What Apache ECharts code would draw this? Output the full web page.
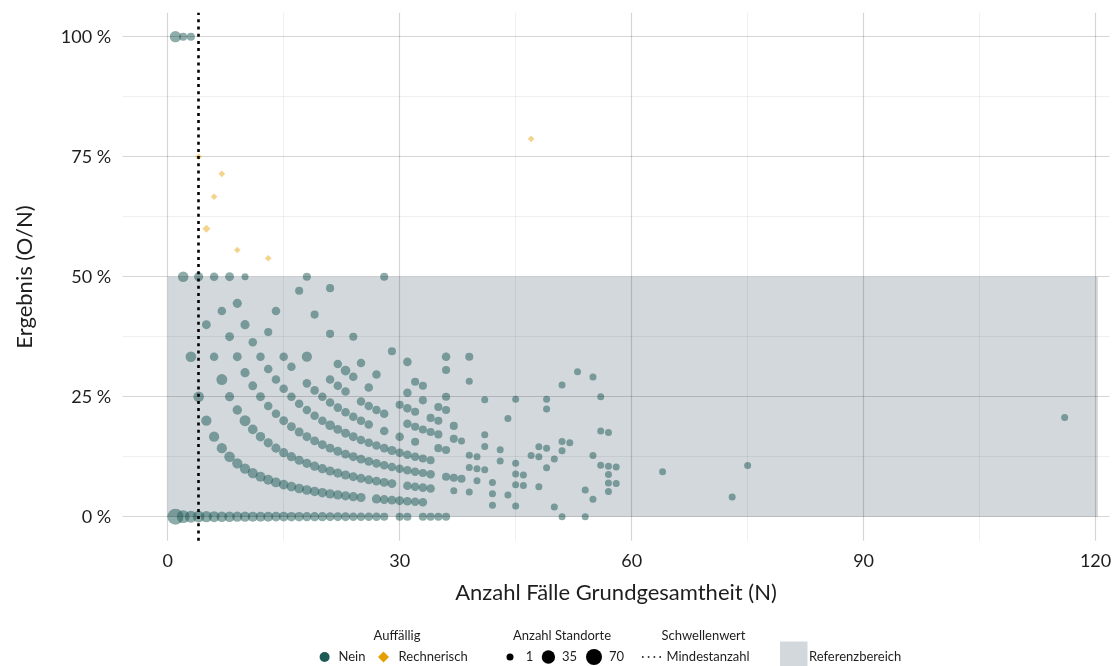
<!DOCTYPE html>
<html>
<head>
<meta charset="utf-8">
<script src="https://cdn.jsdelivr.net/npm/echarts@6/dist/echarts.min.js"></script>
<style>
html,body{margin:0;padding:0;background:#ffffff;}
#chart{width:1115px;height:666px;}
</style>
</head>
<body>
<div id="chart"></div>
<script>
// ---------- data ----------
// Anzahl Fälle Grundgesamtheit (N) per group of sites
const fallzahlN = [1,2,3,4,5,6,7,8,9,10,11,12,13,14,15,16,17,18,19,20,21,22,23,24,25,26,27,28,29,30,31,32,33,34,35,36,37,38,39,40,41,42,43,44,45,46,47,48,49,50,51,52,53,54,55,56,57,58,64,73,75,116];
// beobachtete Fälle (O) for each N (Auffällig: Nein)
const ergebnisO = [
  [0,1],[0,1,2],[0,1,3],[0,1,2],[0,1,2],[0,1,2,3],[0,1,2,3],[0,1,2,3,4],[0,1,2,3,4],[0,1,2,3,4,5],
  [0,1,2,3,4],[0,1,2,3,4],[0,1,2,3,4,5],[0,1,2,3,4,6],[0,1,2,3,4,5],[0,1,2,3,4,5],[0,1,2,3,4,8],[0,1,2,3,4,5,6,9],[0,1,2,3,4,5,8],[0,1,2,3,4,5],
  [0,1,2,3,4,5,6,8,10],[0,1,2,3,4,5,6,7],[0,1,2,3,4,5,6,7],[0,1,2,3,4,5,7,9],[0,1,2,3,4,5,6,8],[0,2,3,4,5,6,7],[0,1,2,3,4,6,8],[0,1,2,3,4,5,6,14],[1,2,3,4,10],[0,1,3,4,5,7],
  [0,1,2,3,4,6,7,8,10],[1,2,3,4,5,6,7,9],[0,1,2,3,4,6,8,9],[0,2,3,4,6,7],[0,5,6,7,8],[0,3,5,8,9,11,12],[2,3,6,7],[3,6],[2,4,5,11,13],[3,4,5],
  [4,6,7,10],[1,2,3],[5,6],[2,9],[1,3,4,5,11],[3,4],[6],[3,6,7],[5,7,11,12],[1,6],
  [0,7,8,14],[8],[16],[0,3],[2,7,16],[6,10,14],[3,4,5,6,10],[4,6],[6],[3],[8],[24]
];
// Anzahl Standorte for each (N, O)
const anzahlStandorte = [
  [70,17],[30,12,2],[22,12,2],[20,12,5],[16,10,4],[14,10,3,3],[12,10,14,3],[12,12,5,4,4],[10,10,6,4,5],[10,10,14,5,5,1],
  [9,10,7,4,3],[8,9,6,4,3],[8,8,5,3,3,2],[7,8,5,3,3,3],[7,7,5,4,3,3],[6,7,5,4,3,3],[6,7,5,4,3,2],[5,7,5,4,3,3,10,2],[5,6,5,4,3,3,2],[5,6,5,4,3,3],
  [4,6,5,4,7,3,3,2,2],[4,6,5,4,4,3,3,3],[4,5,5,4,4,3,3,7],[3,5,4,4,4,3,3,2],[3,5,4,4,3,3,3,3],[3,4,4,3,3,3,3],[3,5,4,3,3,3,3],[2,4,4,3,3,3,3,2],[4,4,3,5,2],[2,4,3,3,3,2],
  [2,3,3,3,3,3,3,3,3],[3,3,3,3,2,2,2,2],[2,3,3,2,2,2,2,2],[2,3,3,2,2,2],[2,2,2,2,2],[2,2,2,2,2,2,3],[1,2,2,2],[2,1],[1,1,1,1,2],[1,1,1],
  [1,1,1,1],[1,1,1],[1,1],[1,1],[1,1,1,1,1],[1,1],[1],[1,1,1],[1,1,1,1],[1,1],
  [1,1,1,1],[1],[1],[1,1],[1,1,1],[1,1,1],[1,1,1,1,1],[1,1],[1],[1],[1],[1]
];
// Auffällig: Rechnerisch
const rechnerischN = [4,5,6,7,9,13,47];
const rechnerischO = [3,3,4,5,5,7,37];
const rechnerischStandorte = [1,3,1,1,1,1,1];

const mindestanzahl = 4;
const referenzbereichProzent = [0, 50];
const referenzbereichN = [0, 120.3];

const xTicks = [0, 30, 60, 90, 120];
const xMinor = [15, 45, 75, 105];
const yTicks = [0, 25, 50, 75, 100];
const yMinor = [12.5, 37.5, 62.5, 87.5];
const legendSizes = [1, 35, 70];

// ---------- build ----------
const TEAL = '#1d5a55';
const ORANGE = '#e69f00';
const FONT = 'Lato, "Open Sans", sans-serif';
const TXT = '#1e1e1e';

function sizeFor(c) { return 7 + 9 * Math.sqrt((c - 1) / 69); }

const neinData = [];
fallzahlN.forEach(function (n, i) {
  ergebnisO[i].forEach(function (o, j) {
    neinData.push([n, o / n * 100, anzahlStandorte[i][j]]);
  });
});
const rechData = rechnerischN.map(function (n, i) {
  return [n, rechnerischO[i] / n * 100, rechnerischStandorte[i]];
});

const chart = echarts.init(document.getElementById('chart'), null, {renderer: 'canvas'});

const gridLines = []
  .concat(xMinor.map(function (v) { return {xAxis: v, lineStyle: {color: 'rgba(0,0,0,0.075)', width: 0.8, type: 'solid'}}; }))
  .concat(yMinor.map(function (v) { return {yAxis: v, lineStyle: {color: 'rgba(0,0,0,0.075)', width: 0.8, type: 'solid'}}; }))
  .concat(xTicks.map(function (v) { return {xAxis: v, lineStyle: {color: 'rgba(0,0,0,0.16)', width: 1.2, type: 'solid'}}; }))
  .concat(yTicks.map(function (v) { return {yAxis: v, lineStyle: {color: 'rgba(0,0,0,0.16)', width: 1.2, type: 'solid'}}; }));

// legend graphics
const LT = 636, LI = 657;
const legendGraphics = [
  {type: 'text', x: 397, y: LT, style: {text: 'Auffällig', font: '13px ' + FONT, fill: TXT, align: 'center', verticalAlign: 'middle'}},
  {type: 'circle', shape: {cx: 324.6, cy: LI, r: 5}, style: {fill: TEAL}},
  {type: 'text', x: 338.5, y: LI, style: {text: 'Nein', font: '13px ' + FONT, fill: TXT, align: 'left', verticalAlign: 'middle'}},
  {type: 'polygon', shape: {points: [[383.5, 651.5], [389, 657], [383.5, 662.5], [378, 657]]}, style: {fill: ORANGE}},
  {type: 'text', x: 398.6, y: LI, style: {text: 'Rechnerisch', font: '13px ' + FONT, fill: TXT, align: 'left', verticalAlign: 'middle'}},

  {type: 'text', x: 562, y: LT, style: {text: 'Anzahl Standorte', font: '13px ' + FONT, fill: TXT, align: 'center', verticalAlign: 'middle'}},
  {type: 'circle', shape: {cx: 510, cy: LI, r: sizeFor(legendSizes[0]) / 2}, style: {fill: '#000'}},
  {type: 'text', x: 525.8, y: LI, style: {text: String(legendSizes[0]), font: '13px ' + FONT, fill: TXT, align: 'left', verticalAlign: 'middle'}},
  {type: 'circle', shape: {cx: 548.4, cy: LI, r: sizeFor(legendSizes[1]) / 2}, style: {fill: '#000'}},
  {type: 'text', x: 562, y: LI, style: {text: String(legendSizes[1]), font: '13px ' + FONT, fill: TXT, align: 'left', verticalAlign: 'middle'}},
  {type: 'circle', shape: {cx: 594, cy: LI, r: sizeFor(legendSizes[2]) / 2}, style: {fill: '#000'}},
  {type: 'text', x: 609, y: LI, style: {text: String(legendSizes[2]), font: '13px ' + FONT, fill: TXT, align: 'left', verticalAlign: 'middle'}},

  {type: 'text', x: 703.5, y: LT, style: {text: 'Schwellenwert', font: '13px ' + FONT, fill: TXT, align: 'center', verticalAlign: 'middle'}},
  {type: 'line', shape: {x1: 642, y1: LI, x2: 664, y2: LI}, style: {stroke: '#000', lineWidth: 1.6, lineDash: [1.6, 4.2]}},
  {type: 'text', x: 666.5, y: LI, style: {text: 'Mindestanzahl', font: '13px ' + FONT, fill: TXT, align: 'left', verticalAlign: 'middle'}},

  {type: 'rect', shape: {x: 780, y: 641.5, width: 27.5, height: 27}, style: {fill: '#d3d8dc'}},
  {type: 'text', x: 809, y: LI, style: {text: 'Referenzbereich', font: '13px ' + FONT, fill: TXT, align: 'left', verticalAlign: 'middle'}},

  // axis titles
  {type: 'text', x: 616, y: 593, style: {text: 'Anzahl Fälle Grundgesamtheit (N)', font: '22px ' + FONT, fill: TXT, align: 'center', verticalAlign: 'middle'}},
  {type: 'text', x: 25, y: 277, rotation: Math.PI / 2, style: {text: 'Ergebnis (O/N)', font: '22px ' + FONT, fill: TXT, align: 'center', verticalAlign: 'middle'}}
];

const option = {
  animation: false,
  backgroundColor: '#ffffff',
  grid: {left: 122.7, top: 12.7, width: 986.8, height: 528, containLabel: false},
  xAxis: {
    type: 'value', min: -5.82, max: 121.8,
    axisLine: {show: false, onZero: false}, axisTick: {show: false}, splitLine: {show: false},
    axisLabel: {customValues: xTicks, fontSize: 18, fontFamily: FONT, color: TXT, margin: 11}
  },
  yAxis: {
    type: 'value', min: -5, max: 105,
    axisLine: {show: false, onZero: false}, axisTick: {show: false}, splitLine: {show: false},
    axisLabel: {customValues: yTicks, fontSize: 18, fontFamily: FONT, color: TXT, margin: 11.5,
      formatter: function (v) { return v + ' %'; }}
  },
  graphic: legendGraphics,
  series: [
    {
      name: 'Referenzbereich', type: 'scatter', data: [], z: 1, silent: true,
      markArea: {silent: true, itemStyle: {color: '#d3d8dc', opacity: 1},
        data: [[{xAxis: referenzbereichN[0], yAxis: referenzbereichProzent[0]}, {xAxis: referenzbereichN[1], yAxis: referenzbereichProzent[1]}]]}
    },
    {
      name: 'grid', type: 'scatter', data: [], z: 2, silent: true,
      markLine: {silent: true, symbol: 'none', label: {show: false}, emphasis: {disabled: true}, data: gridLines}
    },
    {
      name: 'Nein', type: 'scatter', z: 3, data: neinData,
      symbol: 'circle', symbolSize: function (v) { return sizeFor(v[2]); },
      itemStyle: {color: TEAL, opacity: 0.5}
    },
    {
      name: 'Rechnerisch', type: 'scatter', z: 3, data: rechData,
      symbol: 'diamond', symbolSize: function (v) { return sizeFor(v[2]) * 0.95; },
      itemStyle: {color: ORANGE, opacity: 0.45}
    },
    {
      name: 'Mindestanzahl', type: 'scatter', data: [], z: 4, silent: true,
      markLine: {silent: true, symbol: 'none', label: {show: false}, emphasis: {disabled: true},
        data: [{xAxis: mindestanzahl, lineStyle: {color: '#000', width: 2.6, type: [3, 4.2]}}]}
    }
  ]
};
chart.setOption(option);
</script>
</body>
</html>
